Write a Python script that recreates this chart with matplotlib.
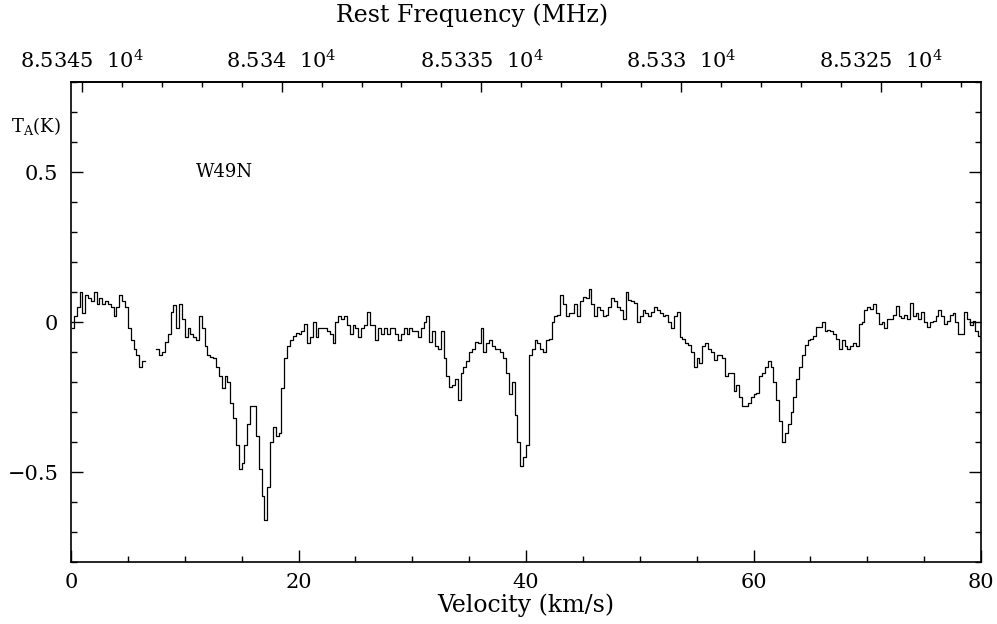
import numpy as np
import matplotlib
matplotlib.use('Agg')
import matplotlib.pyplot as plt
from matplotlib.ticker import MultipleLocator, FixedLocator

plt.rcParams['font.family'] = ['DejaVu Serif']
plt.rcParams['mathtext.fontset'] = 'dejavuserif'
plt.rcParams['font.size'] = 15

# spectrum: channel width 0.25 km/s starting at 0 km/s
dv = 0.25
v_start = 0.0
ta = [
    -0.02, 0.02, 0.05, 0.10, 0.03, 0.09, 0.08, 0.07, 0.10, 0.06,
    0.08, 0.06, 0.07, 0.06, 0.05, 0.02, 0.05, 0.09, 0.07, 0.05,
    -0.02, -0.06, -0.09, -0.11, -0.15, -0.13, np.nan, np.nan, np.nan, np.nan,
    -0.09, -0.11, -0.10, -0.065, -0.04, 0.035, 0.057, -0.02, 0.06, 0.01,
    -0.05, -0.02, -0.04, -0.05, -0.06, 0.02, -0.02, -0.08, -0.11, -0.115,
    -0.12, -0.15, -0.18, -0.22, -0.18, -0.20, -0.27, -0.32, -0.41, -0.49,
    -0.47, -0.41, -0.34, -0.28, -0.28, -0.38, -0.49, -0.58, -0.66, -0.55,
    -0.40, -0.35, -0.38, -0.37, -0.22, -0.12, -0.08, -0.06, -0.045, -0.035,
    -0.04, -0.03, -0.005, -0.07, -0.05, 0.00, -0.05, -0.02, -0.02, -0.02,
    -0.03, -0.04, -0.07, 0.00, 0.02, 0.01, 0.02, -0.01, -0.04, -0.01,
    -0.02, -0.05, -0.02, -0.01, 0.035, -0.01, -0.01, -0.06, -0.02, -0.04,
    -0.02, -0.04, -0.02, -0.02, -0.04, -0.06, -0.04, -0.02, -0.04, -0.02,
    -0.03, -0.03, -0.05, -0.02, 0.00, 0.02, -0.065, -0.03, -0.08, -0.09,
    -0.03, -0.12, -0.18, -0.215, -0.21, -0.19, -0.26, -0.17, -0.15, -0.13,
    -0.10, -0.09, -0.065, -0.07, -0.02, -0.10, -0.07, -0.06, -0.08, -0.09,
    -0.09, -0.10, -0.12, -0.17, -0.24, -0.20, -0.31, -0.40, -0.48, -0.45,
    -0.41, -0.11, -0.09, -0.06, -0.07, -0.09, -0.10, -0.06, -0.055, 0.00,
    0.02, 0.025, 0.09, 0.06, 0.02, 0.03, 0.03, 0.06, 0.02, 0.07,
    0.085, 0.08, 0.11, 0.06, 0.02, 0.05, 0.04, 0.02, 0.025, 0.05,
    0.08, 0.07, 0.05, 0.04, 0.01, 0.10, 0.075, 0.07, 0.065, 0.00,
    0.02, 0.04, 0.03, 0.02, 0.035, 0.05, 0.04, 0.03, 0.02, 0.025,
    0.00, -0.02, 0.02, 0.035, -0.05, -0.055, -0.07, -0.075, -0.10, -0.15,
    -0.12, -0.135, -0.08, -0.07, -0.09, -0.10, -0.125, -0.11, -0.11, -0.12,
    -0.18, -0.17, -0.17, -0.23, -0.21, -0.25, -0.28, -0.28, -0.27, -0.25,
    -0.24, -0.235, -0.18, -0.17, -0.15, -0.13, -0.15, -0.20, -0.26, -0.33,
    -0.40, -0.37, -0.34, -0.30, -0.25, -0.19, -0.15, -0.11, -0.075, -0.06,
    -0.055, -0.045, -0.016, -0.016, 0.0, -0.03, -0.025, -0.03, -0.04, -0.055,
    -0.09, -0.06, -0.08, -0.09, -0.08, -0.07, -0.08, -0.005, 0.0, 0.04,
    0.05, 0.045, 0.06, 0.03, -0.005, 0.0, -0.02, 0.01, 0.01, 0.025,
    0.055, 0.02, 0.015, 0.025, 0.01, 0.065, 0.02, 0.03, 0.01, 0.035,
    0.00, -0.015, 0.0, 0.005, 0.02, 0.04, 0.02, -0.005, 0.005, 0.025,
    0.03, 0.0, -0.04, -0.04, 0.035, 0.01, -0.01, 0.005, -0.03, -0.045,
]
ta = np.array(ta)
vel = v_start + dv * (np.arange(len(ta)) + 0.5)

# frequency scale (MHz) for the top axis
f_ref = 85345.27
df_dv = 0.28466
freq_ticks = [85345, 85340, 85335, 85330, 85325]

source = 'W49N'


def v2f(v):
    return f_ref - df_dv * np.asarray(v)


def f2v(f):
    return (f_ref - np.asarray(f)) / df_dv


fig = plt.figure(figsize=(9.97, 6.24), dpi=100)
ax = fig.add_axes([0.0712, 0.0994, 0.9128, 0.7684])

ax.step(vel, ta, where='mid', color='black', lw=0.9)

ax.set_xlim(0, 80)
ax.set_ylim(-0.8, 0.8)

ax.xaxis.set_major_locator(MultipleLocator(20))
ax.xaxis.set_minor_locator(MultipleLocator(5))
ax.yaxis.set_major_locator(FixedLocator([-0.5, 0, 0.5]))
ax.yaxis.set_minor_locator(MultipleLocator(0.1))
ax.set_yticklabels(['\u22120.5', '0', '0.5'])

ax.tick_params(which='both', direction='in', top=False, right=True, width=1.0)
ax.tick_params(which='major', length=8.5)
ax.tick_params(which='minor', length=4)
ax.tick_params(axis='x', pad=8)
ax.tick_params(axis='y', pad=9)
for s in ax.spines.values():
    s.set_linewidth(1.2)

ax.set_xlabel('Velocity (km/s)', fontsize=17, labelpad=1)

top = ax.secondary_xaxis('top', functions=(v2f, f2v))
top.xaxis.set_major_locator(FixedLocator(freq_ticks))
top.xaxis.set_minor_locator(MultipleLocator(1))
top.set_xticklabels([f'{f / 1e4:g}  10$^{{\\mathrm{{4}}}}$' for f in freq_ticks])
top.tick_params(which='both', direction='in', width=1.0)
top.tick_params(which='major', length=7, pad=7)
top.tick_params(which='minor', length=3.5)
top.spines['top'].set_linewidth(1.2)

fig.text(472 / 997, 1 - 15 / 624, 'Rest Frequency (MHz)', fontsize=17,
         ha='center', va='center')
fig.text(11 / 997, 1 - 126 / 624, r'T$_{\mathrm{A}}$(K)', fontsize=13,
         ha='left', va='center')

ax.text(11.0, 0.5, source, fontsize=13, ha='left', va='center')

fig.savefig('out.png', dpi=100)
